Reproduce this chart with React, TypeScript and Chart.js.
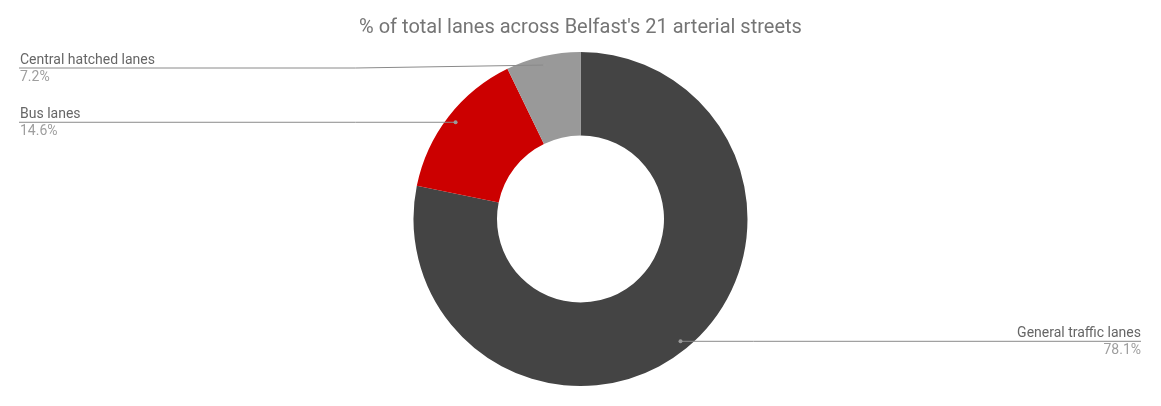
import React, { useEffect, useRef } from "react";
import { Chart, registerables } from "chart.js";

Chart.register(...registerables);

const categories = ["General traffic lanes", "Bus lanes", "Central hatched lanes"];
const values = [78.1, 14.6, 7.2];
const valueLabels = ["78.1%", "14.6%", "7.2%"];
const colors = ["#444444", "#cc0000", "#999999"];
const titleText = "% of total lanes across Belfast's 21 arterial streets";

const leaderPlugin = {
  id: "leaderLabels",
  afterDatasetsDraw(chart: any) {
    const ctx = chart.ctx;
    const meta = chart.getDatasetMeta(0);
    const W = chart.width;
    const top = chart.chartArea.top;
    ctx.save();
    meta.data.forEach((arc: any, i: number) => {
      const { x: cx, y: cy, startAngle, endAngle, outerRadius } = arc.getProps(
        ["x", "y", "startAngle", "endAngle", "outerRadius"],
        true
      );
      const mid = (startAngle + endAngle) / 2;
      const rr = outerRadius - 9;
      const dx = cx + Math.cos(mid) * rr;
      const dy = cy + Math.sin(mid) * rr;
      const right = Math.cos(mid) >= 0;
      const lineY = Math.max(dy, top + 16);
      const elbowX = right ? cx + outerRadius + 6 : cx - outerRadius - 58;
      const edgeX = right ? W - 20 : 19;

      ctx.strokeStyle = "#8a8a8a";
      ctx.lineWidth = 1;
      ctx.beginPath();
      ctx.moveTo(dx, dy);
      ctx.lineTo(elbowX, lineY);
      ctx.lineTo(edgeX, lineY);
      ctx.stroke();

      ctx.fillStyle = "#9a9a9a";
      ctx.beginPath();
      ctx.arc(dx, dy, 2, 0, Math.PI * 2);
      ctx.fill();

      ctx.font = "14px Roboto";
      ctx.textAlign = right ? "right" : "left";
      ctx.textBaseline = "alphabetic";
      const tx = right ? edgeX : edgeX + 1;
      ctx.fillStyle = "#666666";
      ctx.fillText(categories[i], tx, lineY - 4);
      ctx.fillStyle = "#9e9e9e";
      ctx.fillText(valueLabels[i], tx, lineY + 13);
    });
    ctx.restore();
  },
};

export default function App() {
  const ref = useRef<HTMLCanvasElement>(null);
  useEffect(() => {
    if (!ref.current) return;
    const chart = new Chart(ref.current, {
      type: "doughnut",
      data: {
        labels: categories,
        datasets: [
          {
            data: values,
            backgroundColor: colors,
            borderWidth: 0,
          },
        ],
      },
      options: {
        animation: false,
        responsive: true,
        maintainAspectRatio: false,
        cutout: "50%",
        layout: { padding: { top: 0, bottom: 20, left: 0, right: 0 } },
        plugins: {
          legend: { display: false },
          tooltip: { enabled: false },
          title: {
            display: true,
            text: titleText,
            color: "#757575",
            font: { family: "Roboto", size: 20, weight: "normal" },
            padding: { top: 16, bottom: 12 },
          },
        },
      },
      plugins: [leaderPlugin],
    });
    return () => chart.destroy();
  }, []);
  return (
    <div style={{ position: "fixed", left: 0, top: 0, width: 1161, height: 406, background: "#fff" }}>
      <canvas ref={ref} />
    </div>
  );
}
